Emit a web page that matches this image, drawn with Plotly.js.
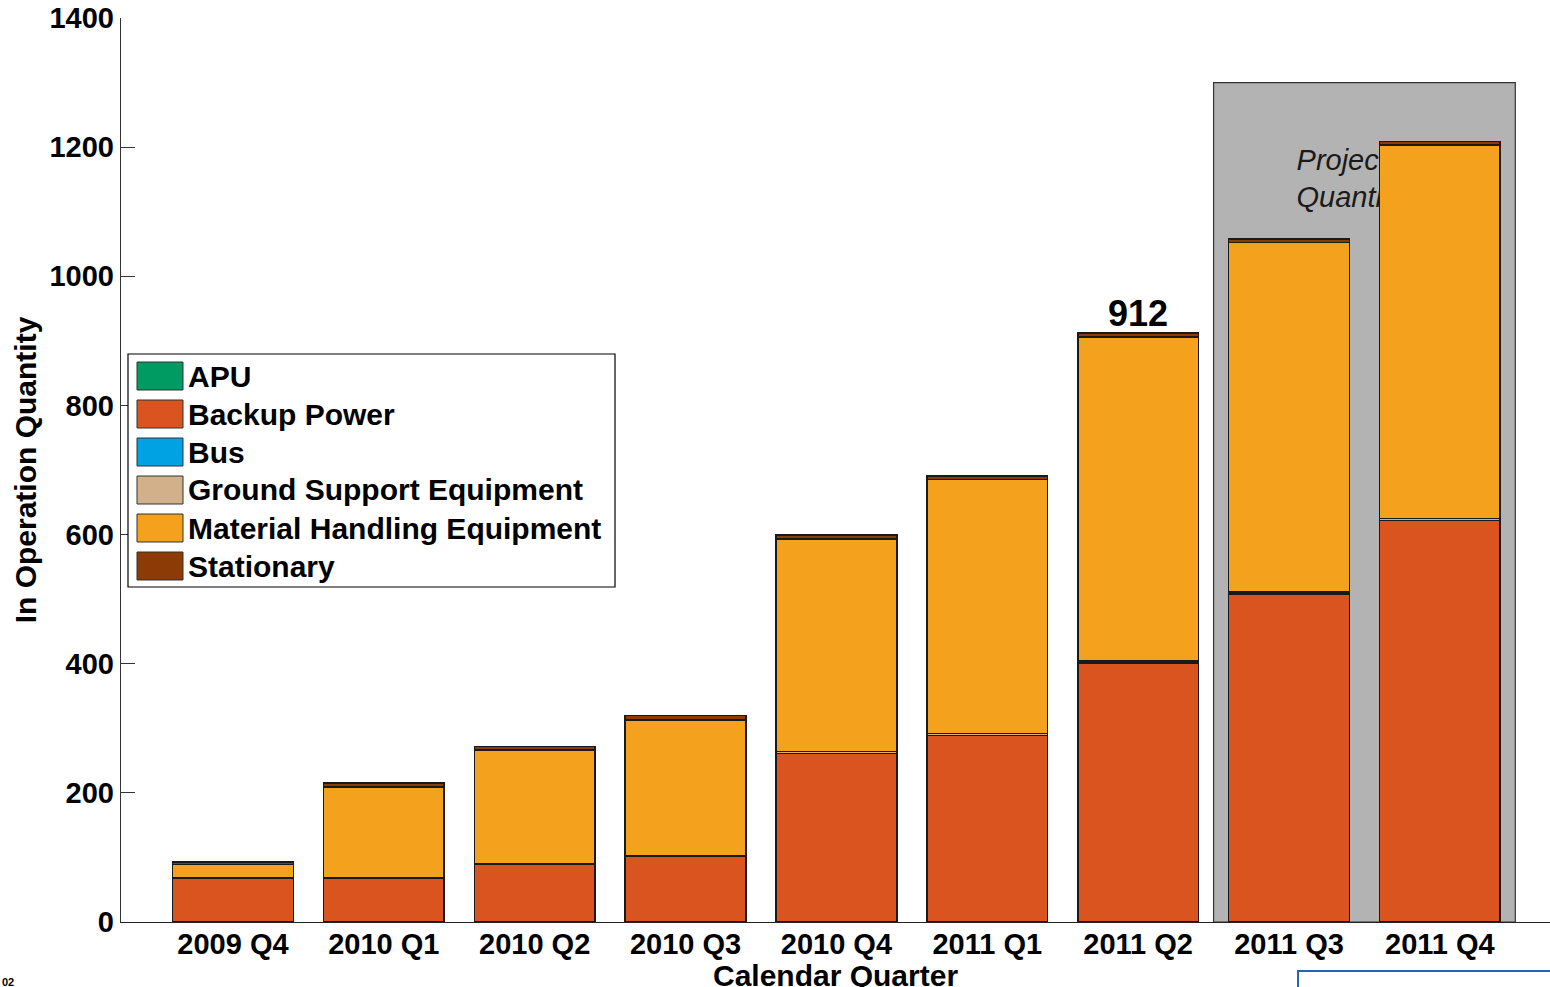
<!DOCTYPE html>
<html><head><meta charset="utf-8">
<script src="https://cdn.plot.ly/plotly-3.0.1.min.js"></script>
<style>html,body{margin:0;padding:0;background:#fff}#chart{width:1550px;height:987px}</style>
</head><body><div id="chart"></div>
<script>
const quarters = ['2009 Q4','2010 Q1','2010 Q2','2010 Q3','2010 Q4','2011 Q1','2011 Q2','2011 Q3','2011 Q4'];
const apu = [0,0,0,0,0,0,0,0,1];
const backupPower = [68,68,90,102,261,289,401,508,621];
const bus = [0,0,0,0,0,0,0,0,0];
const groundSupport = [0,0,0,0,3,3,3,3,3];
const materialHandling = [21,141,176,211,329,393,502,541,578];
const stationary = [4,6,6,7,6,6,6,6,6];
const seriesNames = ['APU','Backup Power','Bus','Ground Support Equipment','Material Handling Equipment','Stationary'];
const seriesColors = ['#009a63','#d9541e','#00a2e3','#d2b08a','#f4a11d','#8c3a06'];
const yTicks = [0,200,400,600,800,1000,1200,1400];
const projectedFirst = 7;
const projectedLast = 8;
const projectedTop = 1300;
const highlightIndex = 6;

const seriesValues = [apu, backupPower, bus, groundSupport, materialHandling, stationary];
const xIdx = quarters.map((q,i)=>i);
const FONT = 'Liberation Sans, Arial, sans-serif';

const traces = [];
// text on base axes so that bars (overlay axes) draw above it
traces.push({
  x:[projectedFirst + 0.05], y:[1147], xaxis:'x', yaxis:'y',
  mode:'text', text:['Projected<br>Quantity'], textposition:'middle right',
  textfont:{family:FONT, size:29, style:'italic', color:'#1a1a1a'},
  hoverinfo:'skip', showlegend:false
});
seriesNames.forEach((name,k)=>{
  traces.push({
    type:'bar', name:name, x:xIdx, y:seriesValues[k], xaxis:'x2', yaxis:'y2',
    width:0.8,
    marker:{color:seriesColors[k], line:{color:'#1a1a1a', width:1.5}},
    showlegend:false
  });
});

const totals = xIdx.map(i=>seriesValues.reduce((s,a)=>s+a[i],0));

// pixel helpers for paper coords (plot area 121..1550 x, 922..18 y)
const L=121, R=1550, T=18, B=922;
const px = x=>(x-L)/(R-L);
const py = y=>(B-y)/(B-T);

const shapes = [{
  type:'rect', xref:'x', yref:'y', x0:projectedFirst-0.5, x1:projectedLast+0.5, y0:0, y1:projectedTop,
  fillcolor:'#b3b3b3', line:{color:'#333', width:1.2}, layer:'below'
}];
const annotations = [{
  xref:'x2', yref:'y2', x:highlightIndex, y:totals[highlightIndex], yanchor:'bottom', yshift:-3,
  text:String(totals[highlightIndex]), showarrow:false,
  font:{family:FONT, size:36, weight:'bold', color:'#000'}
}];
// custom legend
shapes.push({type:'rect', xref:'paper', yref:'paper', x0:px(128), x1:px(615), y0:py(587), y1:py(354),
  fillcolor:'#fff', line:{color:'#000', width:1.2}, layer:'above'});
seriesNames.forEach((name,k)=>{
  const cy = 376 + 38*k;
  shapes.push({type:'rect', xref:'paper', yref:'paper', x0:px(137), x1:px(183), y0:py(cy+14), y1:py(cy-14),
    fillcolor:seriesColors[k], line:{color:'#333', width:1}, layer:'above'});
  annotations.push({xref:'paper', yref:'paper', x:px(186), y:py(cy), xanchor:'left', yanchor:'middle',
    text:name, showarrow:false, font:{family:FONT, size:30, weight:'bold', color:'#000'}});
});
// x-axis title placed precisely
annotations.push({xref:'paper', yref:'paper', x:px(835), y:py(975), xanchor:'center', yanchor:'middle',
  text:'Calendar Quarter', showarrow:false, font:{family:FONT, size:30, weight:'bold', color:'#000'}});
// footer bits
annotations.push({xref:'paper', yref:'paper', x:px(0), y:py(982), xanchor:'left', yanchor:'middle',
  text:'02', showarrow:false, font:{family:FONT, size:11, weight:'bold', color:'#000'}});
shapes.push({type:'rect', xref:'paper', yref:'paper', x0:px(1298), x1:px(1560), y0:py(1000), y1:py(971),
  fillcolor:'rgba(0,0,0,0)', line:{color:'#2a64b0', width:2}});

const xr = [-0.742, 8.73];
const layout = {
  width:1550, height:987, margin:{l:L, r:0, t:T, b:987-B},
  paper_bgcolor:'#fff', plot_bgcolor:'rgba(0,0,0,0)',
  barmode:'stack', showlegend:false,
  font:{family:FONT, color:'#000'},
  xaxis:{range:xr, tickvals:xIdx, ticktext:quarters, showline:true, linecolor:'#222', linewidth:1.2,
    ticks:'', showgrid:false, zeroline:false, tickfont:{family:FONT, size:29, weight:'bold'},
    ticklabelstandoff:-4},
  yaxis:{range:[0,1400], tickvals:yTicks, showline:true, linecolor:'#333', linewidth:1.2,
    ticks:'inside', ticklen:14, tickcolor:'#333', showgrid:false, zeroline:false,
    tickfont:{family:FONT, size:29, weight:'bold'},
    title:{text:'In Operation Quantity', font:{family:FONT, size:30, weight:'bold'}, standoff:4}},
  xaxis2:{range:xr, overlaying:'x', visible:false},
  yaxis2:{range:[0,1400], overlaying:'y', visible:false},
  shapes:shapes, annotations:annotations
};
Plotly.newPlot('chart', traces, layout, {displayModeBar:false, staticPlot:true});
</script></body></html>
